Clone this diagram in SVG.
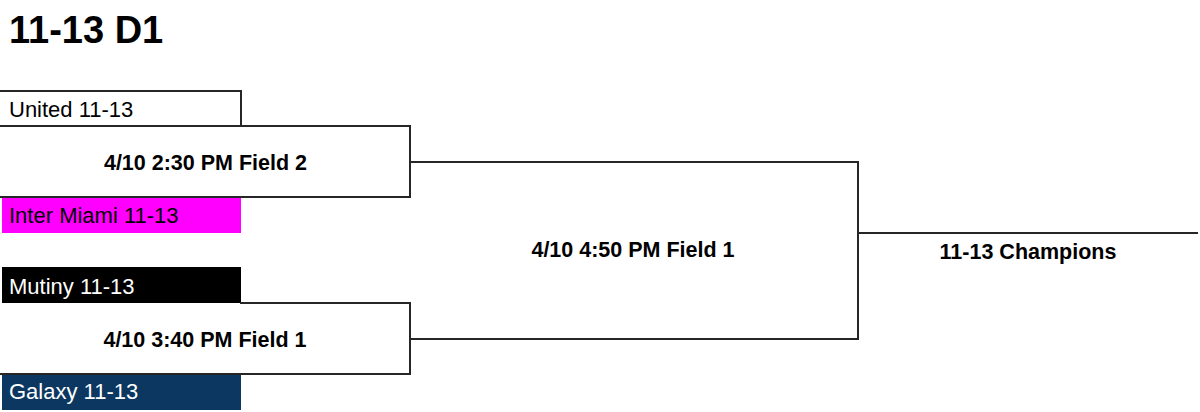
<svg xmlns="http://www.w3.org/2000/svg" width="1200" height="412" viewBox="0 0 1200 412">
<style>
.ln{stroke:#262626;stroke-width:2;fill:none;stroke-linecap:square}
.team{font-family:"Liberation Sans",Arial,sans-serif;font-size:22px}
.match{font-family:"Liberation Sans",Arial,sans-serif;font-size:21.5px;font-weight:bold;text-anchor:middle}
.title{font-family:"Liberation Sans",Arial,sans-serif;font-size:38px;font-weight:bold}
</style>
<rect width="1200" height="412" fill="#ffffff"/>
<text id="title" class="title" x="9" y="43">11-13 D1</text>
<g id="team-united">
<text class="team" x="9" y="117" fill="#000">United 11-13</text>
</g>
<g id="team-intermiami">
<rect x="2" y="197" width="239" height="36" fill="#ff00ff"/>
<text class="team" x="9" y="223" fill="#000">Inter Miami 11-13</text>
</g>
<g id="team-mutiny">
<rect x="2" y="267" width="239" height="36" fill="#000000"/>
<text class="team" x="9" y="294" fill="#fff">Mutiny 11-13</text>
</g>
<g id="team-galaxy">
<rect x="2" y="374" width="239" height="36" fill="#0b3761"/>
<text class="team" x="9" y="399" fill="#fff">Galaxy 11-13</text>
</g>
<g id="match-1">
<text class="match" x="205.5" y="170">4/10 2:30 PM Field 2</text>
</g>
<g id="match-2">
<text class="match" x="205" y="347">4/10 3:40 PM Field 1</text>
</g>
<g id="match-final">
<text class="match" x="633" y="257">4/10 4:50 PM Field 1</text>
</g>
<g id="champion">
<text class="match" x="1028" y="259">11-13 Champions</text>
</g>
<g id="connectors">
<path class="ln" d="M0 91 H241 V126"/>
<path class="ln" d="M0 126 H410 V197 H0"/>
<path class="ln" d="M241 303 H410 V374 H0"/>
<path class="ln" d="M410 162 H858 V339 H410"/>
<path class="ln" d="M858 233 H1197"/>
</g>
</svg>
